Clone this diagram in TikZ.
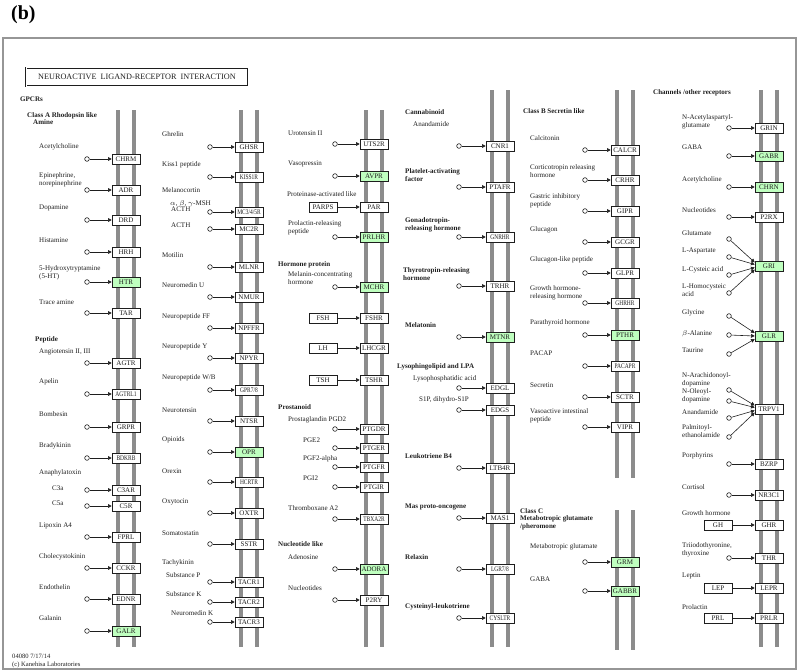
\documentclass[tikz,border=0pt]{standalone}
\usepackage{fontspec}
\setmainfont{Liberation Serif}
\newfontfamily\narrowfont[FakeStretch=0.78]{Liberation Serif}
\usetikzlibrary{arrows.meta}
\definecolor{kgreen}{RGB}{191,255,191}
\definecolor{kmem}{RGB}{140,140,140}
\definecolor{kframe}{RGB}{150,150,150}
\definecolor{kink}{RGB}{30,30,30}
\tikzset{
  rec/.style={
    draw=kink,
    fill=white,
    line width=0.5pt,
    minimum width=0.84cm,
    minimum height=0.3cm,
    inner sep=0pt,
    font=\fontsize{6}{6}\selectfont,
    text=kink
  },
  recg/.style={rec, fill=kgreen},
  recs/.style={rec, font=\fontsize{6}{6}\narrowfont},
  src/.style={rec},
  lig/.style={circle, draw=kink, fill=white, line width=0.5pt, minimum size=1.4mm, inner sep=0pt},
  lbl/.style={anchor=west, align=left, inner sep=0pt, font=\fontsize{6}{6.4}\selectfont, text=kink},
  hdr/.style={lbl, font=\fontsize{6}{6.4}\selectfont\bfseries},
  act/.style={-{Triangle[length=1.1mm,width=1.1mm]}, line width=0.5pt, draw=kink},
  mem/.style={draw=kmem, line width=2.8pt},
  frame/.style={draw=kframe, line width=1.6pt},
  titlebox/.style={draw=kink, line width=0.5pt, double, double distance=0.7pt, minimum width=6.66cm, minimum height=0.55cm, font=\fontsize{7}{7}\selectfont, text=kink}
}
\begin{document}
\begin{tikzpicture}[x=0.03cm,y=-0.03cm]
  \useasboundingbox (0,0) rectangle (800,672);
  \node[anchor=west, inner sep=0pt, font=\fontsize{17}{17}\selectfont\bfseries] (panel) at (11,15) {(b)};
  \draw[frame] (3,38) rectangle (796,669);
  \node[titlebox] (title) at (137,77) {NEUROACTIVE\ \ LIGAND-RECEPTOR\ \ INTERACTION};
  \node[hdr] (gpcrs) at (20,99) {GPCRs};

  % membranes
  \draw[mem] (118,110) -- (118,647);
  \draw[mem] (134,110) -- (134,647);
  \draw[mem] (241,110) -- (241,647);
  \draw[mem] (257,110) -- (257,647);
  \draw[mem] (366,110) -- (366,647);
  \draw[mem] (382,110) -- (382,647);
  \draw[mem] (492,90) -- (492,647);
  \draw[mem] (508,90) -- (508,647);
  \draw[mem] (617,90) -- (617,478);
  \draw[mem] (633,90) -- (633,478);
  \draw[mem] (617,510) -- (617,650);
  \draw[mem] (633,510) -- (633,650);
  \draw[mem] (761,90) -- (761,647);
  \draw[mem] (777,90) -- (777,647);

  % column 1
  \node[hdr] (classa) at (27,116) {Class A Rhodopsin like};
  \node[hdr] (amine) at (33,122) {Amine};
  \node[rec] (chrm) at (126,159) {CHRM};
  \node[rec] (adr) at (126,190) {ADR};
  \node[rec] (drd) at (126,220) {DRD};
  \node[rec] (hrh) at (126,252) {HRH};
  \node[recg] (htr) at (126,282) {HTR};
  \node[rec] (tar) at (126,313) {TAR};
  \node[rec] (agtr) at (126,363) {AGTR};
  \node[recs] (agtrl) at (126,394) {AGTRL1};
  \node[rec] (grpr) at (126,427) {GRPR};
  \node[recs] (bdkrb) at (126,458) {BDKRB};
  \node[rec] (cthreear) at (126,490) {C3AR};
  \node[rec] (cfiver) at (126,506) {C5R};
  \node[rec] (fprl) at (126,537) {FPRL};
  \node[rec] (cckr) at (126,568) {CCKR};
  \node[rec] (ednr) at (126,599) {EDNR};
  \node[recg] (galr) at (126,631) {GALR};
  \node[lig] (lchrm) at (87,159) {};
  \node[lig] (ladr) at (87,190) {};
  \node[lig] (ldrd) at (87,220) {};
  \node[lig] (lhrh) at (87,252) {};
  \node[lig] (lhtr) at (87,282) {};
  \node[lig] (ltar) at (87,313) {};
  \node[lig] (lagtr) at (87,363) {};
  \node[lig] (lagtrl) at (87,394) {};
  \node[lig] (lgrpr) at (87,427) {};
  \node[lig] (lbdkrb) at (87,458) {};
  \node[lig] (lcthreear) at (87,490) {};
  \node[lig] (lcfiver) at (87,506) {};
  \node[lig] (lfprl) at (87,537) {};
  \node[lig] (lcckr) at (87,568) {};
  \node[lig] (lednr) at (87,599) {};
  \node[lig] (lgalr) at (87,631) {};
  \node[lbl] (tchrm) at (39,147) {Acetylcholine};
  \node[lbl] (tadr) at (39,180) {Epinephrine,\\norepinephrine};
  \node[lbl] (tdrd) at (39,208) {Dopamine};
  \node[lbl] (thrh) at (39,240) {Histamine};
  \node[lbl] (thtr) at (39,273) {5-Hydroxytryptamine\\(5-HT)};
  \node[lbl] (ttar) at (39,302) {Trace amine};
  \node[hdr] (peptide) at (35,340) {Peptide};
  \node[lbl] (tagtr) at (39,352) {Angiotensin II, III};
  \node[lbl] (tagtrl) at (39,382) {Apelin};
  \node[lbl] (tgrpr) at (39,414) {Bombesin};
  \node[lbl] (tbdkrb) at (39,446) {Bradykinin};
  \node[lbl] (tanaph) at (39,473) {Anaphylatoxin};
  \node[lbl] (tcthreear) at (52,488) {C3a};
  \node[lbl] (tcfiver) at (52,503) {C5a};
  \node[lbl] (tfprl) at (39,526) {Lipoxin A4};
  \node[lbl] (tcckr) at (39,557) {Cholecystokinin};
  \node[lbl] (tednr) at (39,587) {Endothelin};
  \node[lbl] (tgalr) at (39,618) {Galanin};
  \draw[act] (lchrm) -- (chrm);
  \draw[act] (ladr) -- (adr);
  \draw[act] (ldrd) -- (drd);
  \draw[act] (lhrh) -- (hrh);
  \draw[act] (lhtr) -- (htr);
  \draw[act] (ltar) -- (tar);
  \draw[act] (lagtr) -- (agtr);
  \draw[act] (lagtrl) -- (agtrl);
  \draw[act] (lgrpr) -- (grpr);
  \draw[act] (lbdkrb) -- (bdkrb);
  \draw[act] (lcthreear) -- (cthreear);
  \draw[act] (lcfiver) -- (cfiver);
  \draw[act] (lfprl) -- (fprl);
  \draw[act] (lcckr) -- (cckr);
  \draw[act] (lednr) -- (ednr);
  \draw[act] (lgalr) -- (galr);

  % column 2
  \node[rec] (ghsr) at (249,147) {GHSR};
  \node[recs] (kissr) at (249,177) {KISS1R};
  \node[recs] (mcr) at (249,212) {MC3/4/5R};
  \node[rec] (mctwor) at (249,229) {MC2R};
  \node[rec] (mlnr) at (249,267) {MLNR};
  \node[rec] (nmur) at (249,297) {NMUR};
  \node[rec] (npffr) at (249,328) {NPFFR};
  \node[rec] (npyr) at (249,358) {NPYR};
  \node[recs] (gpr) at (249,390) {GPR7/8};
  \node[rec] (ntsr) at (249,421) {NTSR};
  \node[recg] (opr) at (249,452) {OPR};
  \node[recs] (hcrtr) at (249,482) {HCRTR};
  \node[rec] (oxtr) at (249,513) {OXTR};
  \node[rec] (sstr) at (249,544) {SSTR};
  \node[rec] (tacra) at (249,582) {TACR1};
  \node[rec] (tacrb) at (249,602) {TACR2};
  \node[rec] (tacrc) at (249,622) {TACR3};
  \node[lig] (lghsr) at (210,147) {};
  \node[lig] (lkissr) at (210,177) {};
  \node[lig] (lmcr) at (210,212) {};
  \node[lig] (lmctwor) at (210,229) {};
  \node[lig] (lmlnr) at (210,267) {};
  \node[lig] (lnmur) at (210,297) {};
  \node[lig] (lnpffr) at (210,328) {};
  \node[lig] (lnpyr) at (210,358) {};
  \node[lig] (lgpr) at (210,390) {};
  \node[lig] (lntsr) at (210,421) {};
  \node[lig] (lopr) at (210,452) {};
  \node[lig] (lhcrtr) at (210,482) {};
  \node[lig] (loxtr) at (210,513) {};
  \node[lig] (lsstr) at (210,544) {};
  \node[lig] (ltacra) at (210,582) {};
  \node[lig] (ltacrb) at (210,602) {};
  \node[lig] (ltacrc) at (210,622) {};
  \node[lbl] (tghsr) at (162,134) {Ghrelin};
  \node[lbl] (tkissr) at (162,165) {Kiss1 peptide};
  \node[lbl] (tmelano) at (162,190) {Melanocortin};
  \node[lbl] (tmsh) at (170,204) {$\alpha$, $\beta$, $\gamma$-MSH};
  \node[lbl] (tacth) at (171,209) {ACTH};
  \node[lbl] (tmctwor) at (171,225) {ACTH};
  \node[lbl] (tmlnr) at (162,255) {Motilin};
  \node[lbl] (tnmur) at (162,285) {Neuromedin U};
  \node[lbl] (tnpffr) at (162,317) {Neuropeptide FF};
  \node[lbl] (tnpyr) at (162,347) {Neuropeptide Y};
  \node[lbl] (tgpr) at (162,378) {Neuropeptide W/B};
  \node[lbl] (tntsr) at (162,410) {Neurotensin};
  \node[lbl] (topr) at (162,440) {Opioids};
  \node[lbl] (thcrtr) at (162,471) {Orexin};
  \node[lbl] (toxtr) at (162,502) {Oxytocin};
  \node[lbl] (tsstr) at (162,533) {Somatostatin};
  \node[lbl] (ttachy) at (162,563) {Tachykinin};
  \node[lbl] (ttacra) at (166,575) {Substance P};
  \node[lbl] (ttacrb) at (166,594) {Substance K};
  \node[lbl] (ttacrc) at (171,613) {Neuromedin K};
  \draw[act] (lghsr) -- (ghsr);
  \draw[act] (lkissr) -- (kissr);
  \draw[act] (lmcr) -- (mcr);
  \draw[act] (lmctwor) -- (mctwor);
  \draw[act] (lmlnr) -- (mlnr);
  \draw[act] (lnmur) -- (nmur);
  \draw[act] (lnpffr) -- (npffr);
  \draw[act] (lnpyr) -- (npyr);
  \draw[act] (lgpr) -- (gpr);
  \draw[act] (lntsr) -- (ntsr);
  \draw[act] (lopr) -- (opr);
  \draw[act] (lhcrtr) -- (hcrtr);
  \draw[act] (loxtr) -- (oxtr);
  \draw[act] (lsstr) -- (sstr);
  \draw[act] (ltacra) -- (tacra);
  \draw[act] (ltacrb) -- (tacrb);
  \draw[act] (ltacrc) -- (tacrc);

  % column 3
  \node[rec] (utsr) at (374,144) {UTS2R};
  \node[recg] (avpr) at (374,176) {AVPR};
  \node[rec] (par) at (374,207) {PAR};
  \node[recg] (prlhr) at (374,237) {PRLHR};
  \node[recg] (mchr) at (374,287) {MCHR};
  \node[rec] (fshr) at (374,318) {FSHR};
  \node[rec] (lhcgr) at (374,348) {LHCGR};
  \node[rec] (tshr) at (374,380) {TSHR};
  \node[rec] (ptgdr) at (374,429) {PTGDR};
  \node[rec] (ptger) at (374,448) {PTGER};
  \node[rec] (ptgfr) at (374,467) {PTGFR};
  \node[rec] (ptgir) at (374,487) {PTGIR};
  \node[recs] (tbxar) at (374,519) {TBXA2R};
  \node[recg] (adora) at (374,569) {ADORA};
  \node[rec] (ptwory) at (374,600) {P2RY};
  \node[lig] (lutsr) at (335,144) {};
  \node[lig] (lavpr) at (335,176) {};
  \node[src] (parps) at (323,207) {PARPS};
  \node[lig] (lprlhr) at (335,237) {};
  \node[lig] (lmchr) at (335,287) {};
  \node[src] (fsh) at (323,318) {FSH};
  \node[src] (lh) at (323,348) {LH};
  \node[src] (tsh) at (323,380) {TSH};
  \node[lig] (lptgdr) at (335,429) {};
  \node[lig] (lptger) at (335,448) {};
  \node[lig] (lptgfr) at (335,467) {};
  \node[lig] (lptgir) at (335,487) {};
  \node[lig] (ltbxar) at (335,519) {};
  \node[lig] (ladora) at (335,569) {};
  \node[lig] (lptwory) at (335,600) {};
  \node[lbl] (tutsr) at (288,133) {Urotensin II};
  \node[lbl] (tavpr) at (288,164) {Vasopressin};
  \node[lbl] (tpar) at (287,194) {Proteinase-activated like};
  \node[lbl] (tprlhr) at (288,228) {Prolactin-releasing\\peptide};
  \node[hdr] (hormone) at (278,265) {Hormone protein};
  \node[lbl] (tmchr) at (288,278) {Melanin-concentrating\\hormone};
  \node[hdr] (prostanoid) at (278,407) {Prostanoid};
  \node[lbl] (tptgdr) at (288,420) {Prostaglandin PGD2};
  \node[lbl] (tptger) at (303,440) {PGE2};
  \node[lbl] (tptgfr) at (303,459) {PGF2-alpha};
  \node[lbl] (tptgir) at (303,478) {PGI2};
  \node[lbl] (ttbxar) at (288,508) {Thromboxane A2};
  \node[hdr] (nucleotide) at (278,544) {Nucleotide like};
  \node[lbl] (tadora) at (288,557) {Adenosine};
  \node[lbl] (tptwory) at (288,588) {Nucleotides};
  \draw[act] (lutsr) -- (utsr);
  \draw[act] (lavpr) -- (avpr);
  \draw[act] (parps) -- (par);
  \draw[act] (lprlhr) -- (prlhr);
  \draw[act] (lmchr) -- (mchr);
  \draw[act] (fsh) -- (fshr);
  \draw[act] (lh) -- (lhcgr);
  \draw[act] (tsh) -- (tshr);
  \draw[act] (lptgdr) -- (ptgdr);
  \draw[act] (lptger) -- (ptger);
  \draw[act] (lptgfr) -- (ptgfr);
  \draw[act] (lptgir) -- (ptgir);
  \draw[act] (ltbxar) -- (tbxar);
  \draw[act] (ladora) -- (adora);
  \draw[act] (lptwory) -- (ptwory);

  % column 4
  \node[rec] (cnr) at (500,146) {CNR1};
  \node[rec] (ptafr) at (500,187) {PTAFR};
  \node[recs] (gnrhr) at (500,237) {GNRHR};
  \node[rec] (trhr) at (500,286) {TRHR};
  \node[recg] (mtnr) at (500,337) {MTNR};
  \node[rec] (edgl) at (500,388) {EDGL};
  \node[rec] (edgs) at (500,410) {EDGS};
  \node[rec] (ltbr) at (500,468) {LTB4R};
  \node[rec] (mas) at (500,518) {MAS1};
  \node[recs] (lgr) at (500,569) {LGR7/8};
  \node[recs] (cysltr) at (500,618) {CYSLTR};
  \node[lig] (lcnr) at (459,146) {};
  \node[lig] (lptafr) at (459,187) {};
  \node[lig] (lgnrhr) at (459,237) {};
  \node[lig] (ltrhr) at (459,286) {};
  \node[lig] (lmtnr) at (459,337) {};
  \node[lig] (ledgl) at (459,388) {};
  \node[lig] (ledgs) at (459,410) {};
  \node[lig] (lltbr) at (459,468) {};
  \node[lig] (lmas) at (459,518) {};
  \node[lig] (llgr) at (459,569) {};
  \node[lig] (lcysltr) at (459,618) {};
  \node[hdr] (cannabinoid) at (405,112) {Cannabinoid};
  \node[lbl] (tcnr) at (413,124) {Anandamide};
  \node[hdr] (tptafr) at (405,175) {Platelet-activating\\factor};
  \node[hdr] (tgnrhr) at (405,225) {Gonadotropin-\\releasing hormone};
  \node[hdr] (ttrhr) at (403,274) {Thyrotropin-releasing\\hormone};
  \node[hdr] (tmtnr) at (405,325) {Melatonin};
  \node[hdr] (lysos) at (397,367) {Lysophingolipid and LPA};
  \node[lbl] (tedgl) at (413,379) {Lysophosphatidic acid};
  \node[lbl] (tedgs) at (419,400) {S1P, dihydro-S1P};
  \node[hdr] (tltbr) at (405,456) {Leukotriene B4};
  \node[hdr] (tmas) at (405,507) {Mas proto-oncogene};
  \node[hdr] (tlgr) at (405,557) {Relaxin};
  \node[hdr] (tcysltr) at (405,607) {Cysteinyl-leukotriene};
  \draw[act] (lcnr) -- (cnr);
  \draw[act] (lptafr) -- (ptafr);
  \draw[act] (lgnrhr) -- (gnrhr);
  \draw[act] (ltrhr) -- (trhr);
  \draw[act] (lmtnr) -- (mtnr);
  \draw[act] (ledgl) -- (edgl);
  \draw[act] (ledgs) -- (edgs);
  \draw[act] (lltbr) -- (ltbr);
  \draw[act] (lmas) -- (mas);
  \draw[act] (llgr) -- (lgr);
  \draw[act] (lcysltr) -- (cysltr);

  % column 5
  \node[hdr] (classb) at (523,111) {Class B Secretin like};
  \node[rec] (calcr) at (625,150) {CALCR};
  \node[rec] (crhr) at (625,180) {CRHR};
  \node[rec] (gipr) at (625,211) {GIPR};
  \node[rec] (gcgr) at (625,242) {GCGR};
  \node[rec] (glpr) at (625,273) {GLPR};
  \node[recs] (ghrhr) at (625,303) {GHRHR};
  \node[recg] (pthr) at (625,335) {PTHR};
  \node[recs] (pacapr) at (625,366) {PACAPR};
  \node[rec] (sctr) at (625,397) {SCTR};
  \node[rec] (vipr) at (625,427) {VIPR};
  \node[recg] (grm) at (625,562) {GRM};
  \node[recg] (gabbr) at (625,591) {GABBR};
  \node[lig] (lcalcr) at (585,150) {};
  \node[lig] (lcrhr) at (585,180) {};
  \node[lig] (lgipr) at (585,211) {};
  \node[lig] (lgcgr) at (585,242) {};
  \node[lig] (lglpr) at (585,273) {};
  \node[lig] (lghrhr) at (585,303) {};
  \node[lig] (lpthr) at (585,335) {};
  \node[lig] (lpacapr) at (585,366) {};
  \node[lig] (lsctr) at (585,397) {};
  \node[lig] (lvipr) at (585,427) {};
  \node[lig] (lgrm) at (585,562) {};
  \node[lig] (lgabbr) at (585,591) {};
  \node[lbl] (tcalcr) at (530,138) {Calcitonin};
  \node[lbl] (tcrhr) at (530,171) {Corticotropin releasing\\hormone};
  \node[lbl] (tgipr) at (530,201) {Gastric inhibitory\\peptide};
  \node[lbl] (tgcgr) at (530,230) {Glucagon};
  \node[lbl] (tglpr) at (530,260) {Glucagon-like peptide};
  \node[lbl] (tghrhr) at (530,293) {Growth hormone-\\releasing hormone};
  \node[lbl] (tpthr) at (530,323) {Parathyroid hormone};
  \node[lbl] (tpacapr) at (530,353) {PACAP};
  \node[lbl] (tsctr) at (530,385) {Secretin};
  \node[lbl] (tvipr) at (530,416) {Vasoactive intestinal\\peptide};
  \node[hdr] (classc) at (520,519) {Class C\\Metabotropic glutamate\\/pheromone};
  \node[lbl] (tgrm) at (530,547) {Metabotropic glutamate};
  \node[lbl] (tgabbr) at (530,579) {GABA};
  \draw[act] (lcalcr) -- (calcr);
  \draw[act] (lcrhr) -- (crhr);
  \draw[act] (lgipr) -- (gipr);
  \draw[act] (lgcgr) -- (gcgr);
  \draw[act] (lglpr) -- (glpr);
  \draw[act] (lghrhr) -- (ghrhr);
  \draw[act] (lpthr) -- (pthr);
  \draw[act] (lpacapr) -- (pacapr);
  \draw[act] (lsctr) -- (sctr);
  \draw[act] (lvipr) -- (vipr);
  \draw[act] (lgrm) -- (grm);
  \draw[act] (lgabbr) -- (gabbr);

  % column 6
  \node[hdr] (channels) at (653,93) {Channels /other receptors};
  \node[rec] (grin) at (769,128) {GRIN};
  \node[recg] (gabr) at (769,156) {GABR};
  \node[recg] (chrn) at (769,187) {CHRN};
  \node[rec] (ptworx) at (769,217) {P2RX};
  \node[recg] (gri) at (769,266) {GRI};
  \node[recg] (glr) at (769,336) {GLR};
  \node[rec] (trpv) at (769,409) {TRPV1};
  \node[rec] (bzrp) at (769,464) {BZRP};
  \node[rec] (nrc) at (769,495) {NR3C1};
  \node[rec] (ghr) at (769,525) {GHR};
  \node[rec] (thr) at (769,558) {THR};
  \node[rec] (lepr) at (769,588) {LEPR};
  \node[rec] (prlr) at (769,618) {PRLR};
  \node[lig] (lgrin) at (729,128) {};
  \node[lig] (lgabr) at (729,156) {};
  \node[lig] (lchrn) at (729,187) {};
  \node[lig] (lptworx) at (729,217) {};
  \node[lig] (lglu) at (729,239) {};
  \node[lig] (lasp) at (729,257) {};
  \node[lig] (lcys) at (729,275) {};
  \node[lig] (lhcys) at (729,293) {};
  \node[lig] (lgly) at (729,316) {};
  \node[lig] (lbala) at (729,335) {};
  \node[lig] (ltau) at (729,354) {};
  \node[lig] (lnada) at (729,390) {};
  \node[lig] (lnoda) at (729,401) {};
  \node[lig] (lanan) at (729,418) {};
  \node[lig] (lpea) at (729,437) {};
  \node[lig] (lbzrp) at (729,464) {};
  \node[lig] (lnrc) at (729,495) {};
  \node[src] (gh) at (718,525) {GH};
  \node[lig] (lthr) at (729,558) {};
  \node[src] (lep) at (718,588) {LEP};
  \node[src] (prl) at (718,618) {PRL};
  \node[lbl] (tgrin) at (682,122) {N-Acetylaspartyl-\\glutamate};
  \node[lbl] (tgabr) at (682,147) {GABA};
  \node[lbl] (tchrn) at (682,180) {Acetylcholine};
  \node[lbl] (tptworx) at (682,210) {Nucleotides};
  \node[lbl] (tglu) at (682,233) {Glutamate};
  \node[lbl] (tasp) at (682,251) {L-Aspartate};
  \node[lbl] (tcys) at (682,270) {L-Cysteic acid};
  \node[lbl] (thcys) at (682,290) {L-Homocysteic\\acid};
  \node[lbl] (tgly) at (682,313) {Glycine};
  \node[lbl] (tbala) at (682,334) {$\beta$-Alanine};
  \node[lbl] (ttau) at (682,350) {Taurine};
  \node[lbl] (tnada) at (682,380) {N-Arachidonoyl-\\dopamine};
  \node[lbl] (tnoda) at (682,396) {N-Oleoyl-\\dopamine};
  \node[lbl] (tanan) at (682,412) {Anandamide};
  \node[lbl] (tpea) at (682,431) {Palmitoyl-\\ethanolamide};
  \node[lbl] (tbzrp) at (682,456) {Porphyrins};
  \node[lbl] (tnrc) at (682,487) {Cortisol};
  \node[lbl] (tgh) at (682,513) {Growth hormone};
  \node[lbl] (tthr) at (682,550) {Triiodothyronine,\\thyroxine};
  \node[lbl] (tlep) at (682,576) {Leptin};
  \node[lbl] (tprl) at (682,607) {Prolactin};
  \draw[act] (lgrin) -- (grin);
  \draw[act] (lgabr) -- (gabr);
  \draw[act] (lchrn) -- (chrn);
  \draw[act] (lptworx) -- (ptworx);
  \draw[act] (lglu) -- (gri.166);
  \draw[act] (lasp) -- (gri.174);
  \draw[act] (lcys) -- (gri.186);
  \draw[act] (lhcys) -- (gri.194);
  \draw[act] (lgly) -- (glr.168);
  \draw[act] (lbala) -- (glr.180);
  \draw[act] (ltau) -- (glr.192);
  \draw[act] (lnada) -- (trpv.166);
  \draw[act] (lnoda) -- (trpv.174);
  \draw[act] (lanan) -- (trpv.186);
  \draw[act] (lpea) -- (trpv.194);
  \draw[act] (lbzrp) -- (bzrp);
  \draw[act] (lnrc) -- (nrc);
  \draw[act] (gh) -- (ghr);
  \draw[act] (lthr) -- (thr);
  \draw[act] (lep) -- (lepr);
  \draw[act] (prl) -- (prlr);

  \node[lbl, font=\fontsize{5.6}{6}\selectfont] (footer) at (12,661) {04080 7/17/14\\(c) Kanehisa Laboratories};
\end{tikzpicture}
\end{document}
